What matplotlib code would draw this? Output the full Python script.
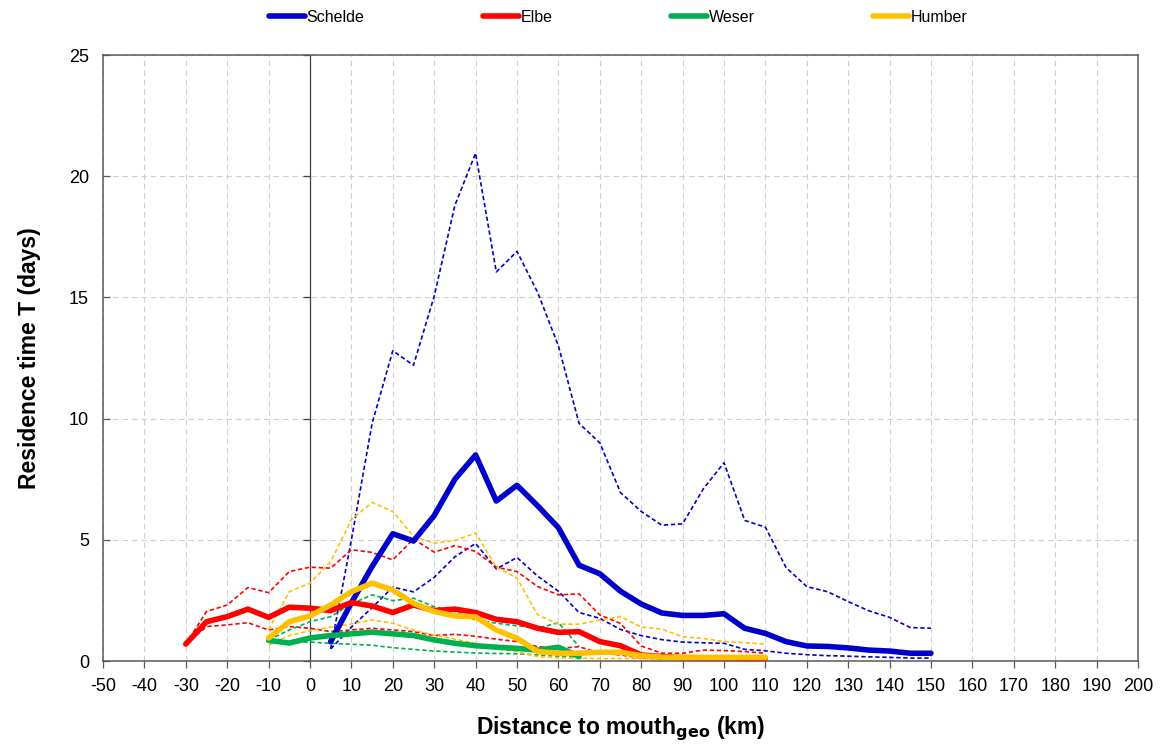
import numpy as np
import matplotlib
matplotlib.use("Agg")
import matplotlib.pyplot as plt
from matplotlib import markers

plt.rcParams['font.family'] = ['Liberation Sans', 'DejaVu Sans']
plt.rcParams['axes.unicode_minus'] = False

# distance to mouth (km) per estuary
x_schelde = np.arange(5, 155, 5)
x_elbe = np.arange(-30, 115, 5)
x_weser = np.arange(-10, 70, 5)
x_humber = np.arange(-10, 115, 5)

# residence time (days): mean and upper / lower dashed curves
schelde = [0.8, 2.4, 3.9, 5.25, 4.95, 6.0, 7.5, 8.5, 6.6, 7.25, 6.4, 5.5, 3.95, 3.6, 2.88,
           2.35, 1.98, 1.88, 1.88, 1.95, 1.35, 1.14, 0.8, 0.62, 0.6, 0.54, 0.45, 0.41, 0.32, 0.32]
schelde_hi = [0.5, 5.0, 9.8, 12.8, 12.2, 15.05, 18.8, 20.95, 16.05, 16.9, 15.2, 13.0, 9.8, 9.0, 6.95,
              6.17, 5.6, 5.66, 7.1, 8.18, 5.8, 5.52, 3.85, 3.07, 2.86, 2.45, 2.07, 1.8, 1.38, 1.35]
schelde_lo = [0.5, 1.4, 2.2, 3.05, 2.85, 3.45, 4.3, 4.85, 3.8, 4.27, 3.5, 2.88, 2.0, 1.76, 1.3,
              1.05, 0.88, 0.78, 0.75, 0.73, 0.48, 0.42, 0.32, 0.26, 0.22, 0.2, 0.17, 0.15, 0.12, 0.12]

elbe = [0.7, 1.62, 1.83, 2.14, 1.8, 2.22, 2.18, 2.08, 2.41, 2.27, 2.0, 2.31, 2.08, 2.14, 2.0,
        1.72, 1.62, 1.35, 1.18, 1.21, 0.8, 0.63, 0.25, 0.18, 0.14, 0.13, 0.13, 0.12, 0.12]
elbe_hi = [0.7, 2.04, 2.31, 3.03, 2.82, 3.69, 3.87, 3.83, 4.59, 4.48, 4.17, 5.03, 4.49, 4.76, 4.52,
           3.87, 3.69, 3.07, 2.73, 2.77, 1.9, 1.55, 0.62, 0.32, 0.32, 0.45, 0.43, 0.39, 0.32]
elbe_lo = [0.7, 1.42, 1.49, 1.58, 1.28, 1.42, 1.35, 1.21, 1.28, 1.35, 1.28, 1.21, 1.05, 1.1, 1.02,
           0.9, 0.8, 0.59, 0.52, 0.59, 0.32, 0.25, 0.12, 0.08, 0.07, 0.07, 0.07, 0.06, 0.06]

weser = [0.85, 0.74, 0.95, 1.05, 1.12, 1.19, 1.12, 1.05, 0.87, 0.73, 0.63, 0.57, 0.52, 0.45, 0.57, 0.18]
weser_hi = [0.87, 1.28, 1.62, 1.83, 2.36, 2.73, 2.49, 2.59, 2.24, 2.04, 1.69, 1.56, 1.45, 1.35, 1.58, 0.6]
weser_lo = [0.85, 0.8, 0.78, 0.73, 0.69, 0.65, 0.55, 0.48, 0.41, 0.37, 0.33, 0.31, 0.3, 0.25, 0.2, 0.15]

humber = [0.95, 1.62, 1.86, 2.31, 2.86, 3.21, 2.93, 2.38, 2.04, 1.86, 1.82, 1.28, 0.94, 0.39, 0.32,
          0.32, 0.36, 0.36, 0.22, 0.16, 0.15, 0.15, 0.15, 0.15, 0.15]
humber_hi = [1.3, 2.86, 3.21, 4.1, 5.83, 6.54, 6.17, 5.14, 4.86, 4.97, 5.28, 3.87, 3.42, 1.9, 1.52,
             1.52, 1.69, 1.83, 1.4, 1.31, 1.0, 0.93, 0.8, 0.76, 0.69]
humber_lo = [0.65, 1.05, 1.25, 1.4, 1.53, 1.69, 1.56, 1.28, 1.07, 0.9, 0.73, 0.52, 0.39, 0.18, 0.13,
             0.12, 0.1, 0.1, 0.1, 0.09, 0.08, 0.08, 0.08, 0.08, 0.08]

series = [
    ('Schelde', '#0000CC', x_schelde, schelde, schelde_hi, schelde_lo),
    ('Elbe', '#FF0000', x_elbe, elbe, elbe_hi, elbe_lo),
    ('Weser', '#00B050', x_weser, weser, weser_hi, weser_lo),
    ('Humber', '#FFC000', x_humber, humber, humber_hi, humber_lo),
]

fig = plt.figure(figsize=(11.62, 7.44), dpi=100)
ax = fig.add_axes([103 / 1162, 1 - 661 / 744, (1138 - 103) / 1162, (661 - 55) / 744])

# dashed envelopes first, thick means on top
for name, col, xs, mean, hi, lo in series:
    for ys in (hi, lo):
        ax.plot(xs, ys, color=col, lw=1.2, dashes=(2.6, 1.6), solid_joinstyle='round', zorder=3)
for name, col, xs, mean, hi, lo in series:
    ax.plot(xs, mean, color=col, lw=4.0, label=name, solid_joinstyle='round',
            solid_capstyle='round', zorder=4)

ax.set_xlim(-50, 200)
ax.set_ylim(0, 25)
xticks = np.arange(-50, 210, 10)
yticks = np.arange(0, 30, 5)
ax.set_xticks(xticks)
ax.set_yticks(yticks)
ax.grid(True, color='#D0D0D0', lw=0.8, dashes=(5, 3.5))
ax.set_axisbelow(True)

# vertical axis line at x = 0 with its own tick marks
ax.axvline(0, color='#404040', lw=0.9, zorder=2)
ax.plot(np.zeros(len(yticks)), yticks, ls='none', marker=markers.TICKLEFT,
        markersize=5, color='#404040', mew=0.9, zorder=2, clip_on=False)

for s in ax.spines.values():
    s.set_color('#595959')
    s.set_linewidth(1.1)
ax.tick_params(axis='x', direction='out', length=5, width=0.9, color='#595959',
               labelsize=13, pad=7)
ax.tick_params(axis='y', direction='in', length=5, width=0.9, color='#595959',
               labelsize=13, pad=10)

ax.set_xlabel('Distance to mouth$_{\\mathbf{geo}}$ (km)', fontsize=16.5, fontweight='bold', labelpad=14)
ax.set_ylabel('Residence time T (days)', fontsize=16.5, fontweight='bold', labelpad=20)

fig.legend(loc='center', bbox_to_anchor=(618 / 1162, 1 - 17 / 744), ncol=4, frameon=False,
           fontsize=11.5, handlelength=2.25, handletextpad=0.12, columnspacing=7.4)

fig.savefig('out.png', dpi=100)
